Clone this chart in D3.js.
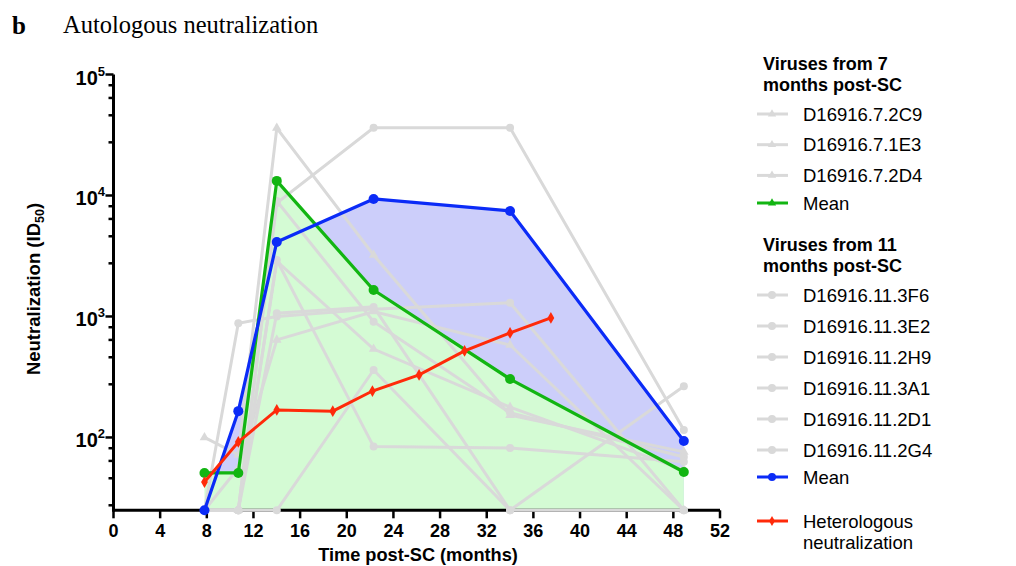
<!DOCTYPE html>
<html>
<head>
<meta charset="utf-8">
<script src="https://cdn.jsdelivr.net/npm/d3@7"></script>
<style>
  body { margin: 0; background: #fff; }
  svg { display: block; }
</style>
</head>
<body>
<svg id="chart" width="1016" height="566"></svg>
<script>
// Sampling times (months post-SC)
const timePoints = [7.8, 10.7, 14, 22.3, 34, 48.9];

// Viruses isolated 7 months post-SC (ID50 per time point)
const virus7Names = ["D16916.7.2C9", "D16916.7.1E3", "D16916.7.2D4"];
const virus7Values = [
  [100, 72, 36100, 3220, 153, 76],
  [25, 56, 640, 1100, 581, 25],
  [25, 25, 2860, 538, 178, 54]
];
const mean7 = [50.9, 50.9, 13200, 1656, 304, 51.8];

// Viruses isolated 11 months post-SC
const virus11Names = ["D16916.11.3F6", "D16916.11.3E2", "D16916.11.2H9",
                      "D16916.11.3A1", "D16916.11.2D1", "D16916.11.2G4"];
const virus11Values = [
  [25, 25, 8670, 36300, 36300, 115],
  [25, 880, 1000, 1150, 1300, 25],
  [25, 25, 9000, 905, 160, 69],
  [25, 25, 1065, 1200, 25, 265],
  [25, 25, 2930, 84, 82, 63],
  [25, 25, 25, 361, 25, 25]
];
const mean11 = [25, 165, 4130, 9360, 7450, 93.6];

// Heterologous neutralization
const heteroTimes = [7.8, 10.7, 14, 18.8, 22.2, 26.2, 30.1, 34, 37.5];
const heteroValues = [42.8, 91.8, 169, 165, 242, 329, 519, 731, 973];

// Axis ticks
const xTicks = d3.range(0, 53, 4);
const yMajorTicks = [100, 1000, 10000, 100000];
const yMinorFactors = [2.75, 4.6, 6.4, 8.15];

const svg = d3.select("#chart");
const x = d3.scaleLinear().domain([0, 52]).range([113.5, 720]);
const y = d3.scaleLog().domain([25, 100000]).range([510.3, 74.5]);

const GRAY = "#d9d9d9", GREEN = "#12b512", BLUE = "#0b2bf7", RED = "#ff2a0a";
const GREEN_FILL = "#d4fbd4", BLUE_FILL = "#cccefa";
const sans = "'Liberation Sans', Arial, sans-serif";
const serif = "'Liberation Serif', 'Times New Roman', serif";

// Panel title
svg.append("text").attr("x", 12).attr("y", 34).attr("font-family", serif)
  .attr("font-size", 25).attr("font-weight", "bold").text("b");
svg.append("text").attr("x", 63).attr("y", 33).attr("font-family", serif)
  .attr("font-size", 24.5).text("Autologous neutralization");

const line = d3.line().x(d => x(d[0])).y(d => y(d[1]));
const area = d3.area().x(d => x(d[0])).y0(y(25)).y1(d => y(d[1]));
const pairs = vals => timePoints.map((t, i) => [t, vals[i]]);

// Shaded areas under the two mean curves
svg.append("path").datum(pairs(mean11)).attr("d", area).attr("fill", BLUE_FILL);
svg.append("path").datum(pairs(mean7)).attr("d", area).attr("fill", GREEN_FILL);

// Axes
const axes = svg.append("g").attr("stroke", "#000");
axes.append("line").attr("x1", x(0)).attr("x2", x(52)).attr("y1", y(25)).attr("y2", y(25))
  .attr("stroke-width", 3);
axes.append("line").attr("x1", x(0)).attr("x2", x(0)).attr("y1", y(25) + 1.5).attr("y2", y(100000))
  .attr("stroke-width", 3);

xTicks.forEach(t => {
  axes.append("line").attr("x1", x(t)).attr("x2", x(t)).attr("y1", y(25)).attr("y2", y(25) + 8)
    .attr("stroke-width", 2.5);
});
svg.append("g").selectAll("text").data(xTicks).join("text")
  .attr("x", d => x(d)).attr("y", 537).attr("text-anchor", "middle")
  .attr("font-family", sans).attr("font-weight", "bold").attr("font-size", 18)
  .text(d => d);

yMajorTicks.forEach(v => {
  axes.append("line").attr("x1", x(0) - 8).attr("x2", x(0)).attr("y1", y(v)).attr("y2", y(v))
    .attr("stroke-width", 2.5);
});
const minorVals = [];
[10, 100, 1000, 10000].forEach(dec => yMinorFactors.forEach(f => {
  const v = dec * f;
  if (v >= 25 && v < 100000) minorVals.push(v);
}));
minorVals.forEach(v => {
  axes.append("line").attr("x1", x(0) - 5).attr("x2", x(0)).attr("y1", y(v)).attr("y2", y(v))
    .attr("stroke-width", 2.5);
});
const yl = svg.append("g").selectAll("text").data(yMajorTicks).join("text")
  .attr("x", 105).attr("y", d => y(d) + 10).attr("text-anchor", "end")
  .attr("font-family", sans).attr("font-weight", "bold").attr("font-size", 20);
yl.append("tspan").text("10");
yl.append("tspan").attr("font-size", 13).attr("dy", -9).text(d => Math.round(Math.log10(d)));

// Axis titles
svg.append("text").attr("x", 418).attr("y", 561).attr("text-anchor", "middle")
  .attr("font-family", sans).attr("font-weight", "bold").attr("font-size", 18.2)
  .text("Time post-SC (months)");
const yt = svg.append("text").attr("transform", "translate(40,289) rotate(-90)")
  .attr("text-anchor", "middle").attr("font-family", sans).attr("font-weight", "bold")
  .attr("font-size", 18.5);
yt.append("tspan").text("Neutralization (ID");
yt.append("tspan").attr("font-size", 12.5).attr("dy", 4).text("50");
yt.append("tspan").attr("dy", -4).text(")");

// Individual viruses
const tri = d3.symbol().type(d3.symbolTriangle).size(40);
virus7Values.forEach(vals => {
  const g = svg.append("g");
  g.append("path").datum(pairs(vals)).attr("d", line).attr("fill", "none")
    .attr("stroke", GRAY).attr("stroke-width", 3);
  g.selectAll("path.m").data(pairs(vals)).join("path").attr("class", "m")
    .attr("transform", d => `translate(${x(d[0])},${y(d[1])})`).attr("d", tri).attr("fill", GRAY);
});
virus11Values.forEach(vals => {
  const g = svg.append("g");
  g.append("path").datum(pairs(vals)).attr("d", line).attr("fill", "none")
    .attr("stroke", GRAY).attr("stroke-width", 3);
  g.selectAll("circle").data(pairs(vals)).join("circle")
    .attr("cx", d => x(d[0])).attr("cy", d => y(d[1])).attr("r", 4).attr("fill", GRAY);
});

// Mean curves
function meanCurve(vals, color) {
  const g = svg.append("g");
  g.append("path").datum(pairs(vals)).attr("d", line).attr("fill", "none")
    .attr("stroke", color).attr("stroke-width", 3.2).attr("stroke-linejoin", "round");
  g.selectAll("circle").data(pairs(vals)).join("circle")
    .attr("cx", d => x(d[0])).attr("cy", d => y(d[1])).attr("r", 5).attr("fill", color);
}
meanCurve(mean7, GREEN);
meanCurve(mean11, BLUE);

// Heterologous neutralization curve
const het = heteroTimes.map((t, i) => [t, heteroValues[i]]);
const dia = d3.symbol().type(d3.symbolDiamond).size(40);
svg.append("path").datum(het).attr("d", line).attr("fill", "none")
  .attr("stroke", RED).attr("stroke-width", 3);
svg.append("g").selectAll("path").data(het).join("path")
  .attr("transform", d => `translate(${x(d[0])},${y(d[1])})`).attr("d", dia).attr("fill", RED);

// Legend
const lg = svg.append("g").attr("font-family", sans);
function header(lines, y0) {
  lines.forEach((s, i) => lg.append("text").attr("x", 763).attr("y", y0 + i * 20.5)
    .attr("font-weight", "bold").attr("font-size", 18).text(s));
}
function item(label, yc, color, shape) {
  lg.append("line").attr("x1", 757).attr("x2", 788).attr("y1", yc).attr("y2", yc)
    .attr("stroke", color).attr("stroke-width", 3);
  if (shape === "tri") lg.append("path").attr("transform", `translate(772,${yc})`)
    .attr("d", d3.symbol().type(d3.symbolTriangle).size(30)).attr("fill", color);
  else if (shape === "dia") lg.append("path").attr("transform", `translate(772,${yc})`)
    .attr("d", d3.symbol().type(d3.symbolDiamond).size(30)).attr("fill", color);
  else lg.append("circle").attr("cx", 772).attr("cy", yc).attr("r", 4).attr("fill", color);
  const t = lg.append("text").attr("x", 803).attr("y", yc + 6.5).attr("font-size", 18.5);
  [].concat(label).forEach((s, i) => t.append("tspan").attr("x", 803).attr("dy", i ? 21 : 0).text(s));
}
header(["Viruses from 7", "months post-SC"], 70);
virus7Names.forEach((n, i) => item(n, 114 + i * 30.7, GRAY, "tri"));
item("Mean", 203, GREEN, "tri");
header(["Viruses from 11", "months post-SC"], 251);
virus11Names.forEach((n, i) => item(n, 295 + i * 31, GRAY, "circle"));
item("Mean", 477, BLUE, "circle");
item(["Heterologous", "neutralization"], 521, RED, "dia");
</script>
</body>
</html>
